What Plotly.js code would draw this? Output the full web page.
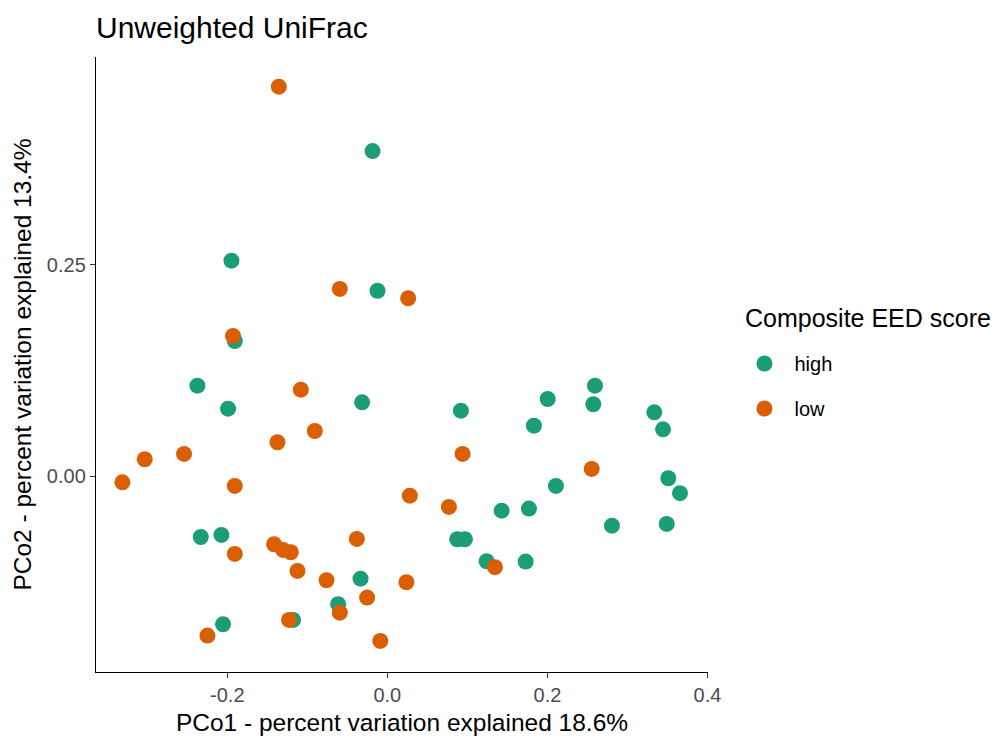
<!DOCTYPE html>
<html>
<head>
<meta charset="utf-8">
<script src="https://cdn.plot.ly/plotly-3.0.1.min.js"></script>
<style>
  html, body { margin: 0; padding: 0; background: #ffffff; }
  #chart { width: 1007px; height: 742px; }
</style>
</head>
<body>
<div id="chart"></div>
<script>
// PCoA ordination (unweighted UniFrac), samples coloured by composite EED score
const groups = ["high", "low"];
const groupColors = ["#1B9E77", "#D95F02"];
const legendTitle = "Composite EED score";

const highPC1 = [-0.0185, -0.1948, -0.0123, -0.1906, -0.2373, -0.0315, -0.1990, -0.2331, -0.2073,
  -0.0335, -0.0615, -0.1178, -0.2053, 0.2594, 0.2003, 0.2573, 0.0919, 0.3335, 0.1831, 0.3444,
  0.3510, 0.2106, 0.3656, 0.1428, 0.1769, 0.2806, 0.3490, 0.0873, 0.0969, 0.1240, 0.1728];
const highPC2 = [0.3844, 0.2549, 0.2194, 0.1600, 0.1072, 0.0876, 0.0801, -0.0715, -0.0691,
  -0.1207, -0.1509, -0.1695, -0.1746, 0.1072, 0.0915, 0.0853, 0.0777, 0.0758, 0.0600, 0.0557,
  -0.0021, -0.0112, -0.0198, -0.0404, -0.0380, -0.0581, -0.0561, -0.0742, -0.0742, -0.1002, -0.1006];

const lowPC1 = [-0.1356, -0.0594, 0.0260, -0.1928, -0.1081, -0.0906, -0.1373, -0.3031, -0.2540,
  -0.3310, -0.1906, 0.0281, -0.1906, -0.1415, -0.1303, -0.1206, -0.0381, -0.1123, -0.0760,
  0.0238, -0.0253, -0.0594, -0.1228, -0.2248, -0.0088, 0.0940, 0.2553, 0.0769, 0.1344];
const lowPC2 = [0.4604, 0.2215, 0.2105, 0.1659, 0.1025, 0.0537, 0.0404, 0.0203, 0.0266,
  -0.0069, -0.0112, -0.0227, -0.0915, -0.0801, -0.0868, -0.0895, -0.0738, -0.1116, -0.1226,
  -0.1250, -0.1431, -0.1609, -0.1695, -0.1880, -0.1943, 0.0266, 0.0089, -0.0360, -0.1072];

const xTicks = [-0.2, 0.0, 0.2, 0.4];
const xTickText = ["-0.2", "0.0", "0.2", "0.4"];
const yTicks = [0.0, 0.25];
const yTickText = ["0.00", "0.25"];

const FONT = "'Liberation Sans', Arial, sans-serif";
const TICK_GREY = "#4D4D4D";

function pointTrace(name, xs, ys, color) {
  return {
    type: "scatter",
    mode: "markers",
    name: name,
    legendgroup: name,
    x: xs,
    y: ys,
    marker: { color: color, size: 16, line: { width: 0 } },
    hoverinfo: "x+y+name"
  };
}

const traces = [
  pointTrace(groups[0], highPC1, highPC2, groupColors[0]),
  pointTrace(groups[1], lowPC1, lowPC2, groupColors[1])
];

const axisCommon = {
  showgrid: false,
  zeroline: false,
  showline: true,
  linecolor: "#000000",
  linewidth: 1.2,
  ticks: "outside",
  ticklen: 5,
  tickwidth: 1.2,
  tickcolor: "#333333",
  tickfont: { family: FONT, size: 20, color: TICK_GREY },
  tickmode: "array",
  fixedrange: true
};

const layout = {
  width: 1007,
  height: 742,
  paper_bgcolor: "#ffffff",
  plot_bgcolor: "#ffffff",
  margin: { l: 96, r: 299, t: 57, b: 70 },
  title: {
    text: "Unweighted UniFrac",
    font: { family: FONT, size: 30, color: "#000000" },
    x: 96 / 1007,
    xanchor: "left",
    xref: "container",
    y: 1 - 27 / 742,
    yanchor: "middle"
  },
  xaxis: Object.assign({}, axisCommon, {
    range: [-0.364, 0.4006],
    tickvals: xTicks,
    ticktext: xTickText,
    title: {
      text: "PCo1 - percent variation explained 18.6%",
      font: { family: FONT, size: 24.5, color: "#000000" },
      standoff: 8
    }
  }),
  yaxis: Object.assign({}, axisCommon, {
    range: [-0.231, 0.4955],
    tickvals: yTicks,
    ticktext: yTickText,
    title: {
      text: "PCo2 - percent variation explained 13.4%",
      font: { family: FONT, size: 24.5, color: "#000000" },
      standoff: 8
    }
  }),
  showlegend: true,
  legend: {
    x: 1.0432,
    xanchor: "left",
    y: (672 - 386) / 615,
    yanchor: "middle",
    font: { family: FONT, size: 20, color: "#000000" },
    tracegroupgap: 16,
    itemwidth: 50,
    itemsizing: "trace",
    bgcolor: "rgba(0,0,0,0)"
  },
  annotations: [{
    text: legendTitle,
    xref: "paper",
    yref: "paper",
    x: (743 - 96) / 612,
    y: (672 - 318) / 615,
    xanchor: "left",
    yanchor: "middle",
    showarrow: false,
    font: { family: FONT, size: 25, color: "#000000" }
  }],
  hovermode: "closest"
};

Plotly.newPlot("chart", traces, layout, { displayModeBar: false, staticPlot: true });
</script>
</body>
</html>
